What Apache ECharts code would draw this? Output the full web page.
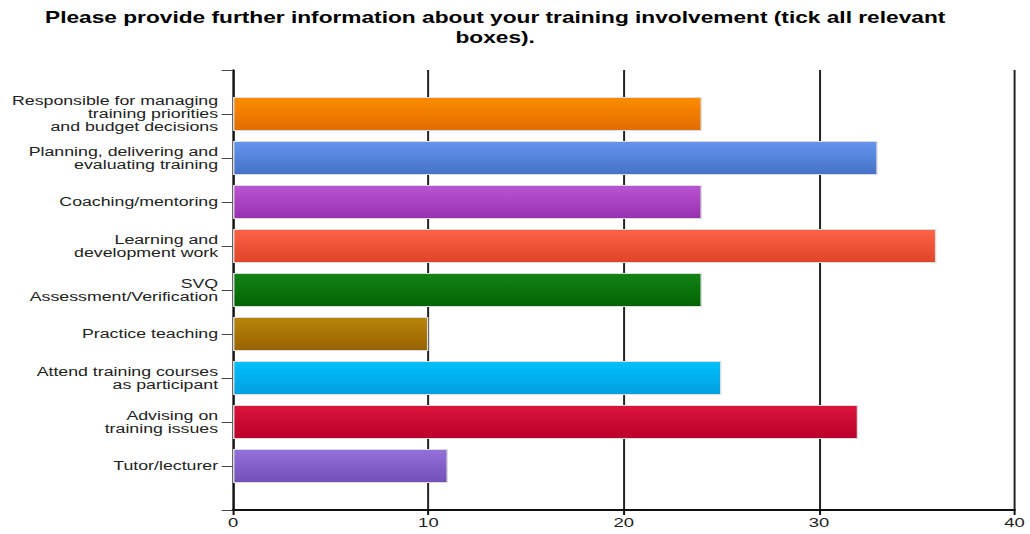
<!DOCTYPE html>
<html>
<head>
<meta charset="utf-8">
<script src="https://cdn.jsdelivr.net/npm/echarts@6/dist/echarts.min.js"></script>
<style>
  html, body { margin: 0; padding: 0; background: #fff; overflow: hidden; }
  /* the source picture is stretched sideways, so draw narrow and widen it */
  #chart { width: 725.4px; height: 534px; transform: scaleX(1.42); transform-origin: 0 0; }
</style>
</head>
<body>
<div id="chart"></div>
<script>
const categories = [
  'Responsible for managing\ntraining priorities\nand budget decisions',
  'Planning, delivering and\nevaluating training',
  'Coaching/mentoring',
  'Learning and\ndevelopment work',
  'SVQ\nAssessment/Verification',
  'Practice teaching',
  'Attend training courses\nas participant',
  'Advising on\ntraining issues',
  'Tutor/lecturer'
];
const counts = [24, 33, 24, 36, 24, 10, 25, 32, 11];
const xTicks = [0, 10, 20, 30, 40];

// gradient top / bottom per bar
const topColors = ['#ff8c00', '#6495ed', '#ba55d3', '#ff6347', '#148214', '#b8860b', '#00bfff', '#dc143c', '#9370db'];
const bottomColors = ['#e06c00', '#4472c8', '#9630b0', '#e04428', '#036403', '#966200', '#00a0dc', '#b8002a', '#7450b8'];

const chart = echarts.init(document.getElementById('chart'), null, { renderer: 'svg' });

// blank slot above and below the real categories
const yData = [''].concat(categories, ['']);
const barData = [null].concat(counts.map((v, i) => ({
  value: v,
  itemStyle: {
    color: new echarts.graphic.LinearGradient(0, 0, 0, 1, [
      { offset: 0, color: topColors[i] },
      { offset: 1, color: bottomColors[i] }
    ]),
    borderColor: '#dcdcdc',
    borderWidth: 1
  }
})), [null]);

const font = 'Liberation Sans, Arial, sans-serif';

chart.setOption({
  animation: false,
  title: {
    text: 'Please provide further information about your training involvement (tick all relevant\nboxes).',
    left: 343.7,
    top: 2,
    textAlign: 'center',
    textStyle: {
      fontFamily: font,
      fontSize: 16,
      fontWeight: 'bold',
      color: '#000',
      lineHeight: 20
    }
  },
  grid: { left: 164.1, right: 10.6, top: 70, bottom: 24, containLabel: false },
  xAxis: {
    type: 'value',
    min: xTicks[0],
    max: xTicks[xTicks.length - 1],
    interval: 10,
    axisLine: { show: true, lineStyle: { color: '#111', width: 2 } },
    axisTick: { show: true, length: 5, lineStyle: { color: '#111', width: 1.4 } },
    splitLine: { show: true, lineStyle: { color: '#222', width: 1.4 } },
    axisLabel: {
      fontFamily: font,
      fontSize: 13,
      color: '#222',
      margin: 6
    }
  },
  yAxis: {
    type: 'category',
    inverse: true,
    boundaryGap: false,
    data: yData,
    axisLine: { show: true, lineStyle: { color: '#111', width: 1.4 } },
    axisTick: { show: true, length: 8, alignWithLabel: true, lineStyle: { color: '#444', width: 1 } },
    axisLabel: {
      fontFamily: font,
      fontSize: 12.5,
      color: '#222',
      margin: 10.5,
      lineHeight: 13,
      interval: 0
    },
    splitLine: { show: false }
  },
  series: [{
    type: 'bar',
    data: barData,
    barWidth: 34
  }]
});
</script>
</body>
</html>
